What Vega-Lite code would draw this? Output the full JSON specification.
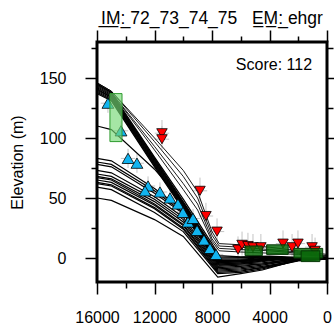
{
  "$schema": "https://vega.github.io/schema/vega-lite/v6.json",
  "width": 230,
  "height": 240,
  "autosize": "none",
  "padding": {"left": 97, "top": 42, "right": 7, "bottom": 44},
  "background": "white",
  "config": {
    "font": "Liberation Sans",
    "view": {"stroke": "black", "strokeWidth": 3},
    "axis": {"grid": false, "domain": false, "tickColor": "black", "tickWidth": 1.5, "labelColor": "black", "labelFontSize": 16, "titleFontSize": 16, "titleFontWeight": "normal", "titleColor": "black", "labelFlush": false, "labelOverlap": false, "labelBound": false}
  },
  "title": {
    "text": "I\u0332M\u0332:\u0332 72_73_74_75\u00a0\u00a0\u00a0E\u0332M\u0332:\u0332 ehgr",
    "fontSize": 17.5,
    "fontWeight": "normal",
    "color": "black",
    "anchor": "middle",
    "frame": "group",
    "offset": 2
  },
  "datasets": {
    "profiles": [
      {"id":"S1","g":"core","x":16000,"y":145},{"id":"S1","g":"core","x":15000,"y":138},{"id":"S1","g":"core","x":12000,"y":84},{"id":"S1","g":"core","x":10000,"y":49},{"id":"S1","g":"core","x":8000,"y":12},{"id":"S1","g":"core","x":7500,"y":2},{"id":"S1","g":"core","x":6000,"y":1},{"id":"S1","g":"core","x":4000,"y":1.5},{"id":"S1","g":"core","x":2000,"y":0.5},{"id":"S1","g":"core","x":0,"y":0},
      {"id":"S2","g":"core","x":16000,"y":144},{"id":"S2","g":"core","x":15000,"y":137},{"id":"S2","g":"core","x":12000,"y":83},{"id":"S2","g":"core","x":10000,"y":47},{"id":"S2","g":"core","x":8000,"y":10},{"id":"S2","g":"core","x":7500,"y":1},{"id":"S2","g":"core","x":6000,"y":0.5},{"id":"S2","g":"core","x":4000,"y":1},{"id":"S2","g":"core","x":2000,"y":0},{"id":"S2","g":"core","x":0,"y":0},
      {"id":"S3","g":"core","x":16000,"y":143},{"id":"S3","g":"core","x":15000,"y":136},{"id":"S3","g":"core","x":12000,"y":82},{"id":"S3","g":"core","x":10000,"y":46},{"id":"S3","g":"core","x":8000,"y":9},{"id":"S3","g":"core","x":7500,"y":0},{"id":"S3","g":"core","x":6000,"y":0},{"id":"S3","g":"core","x":4000,"y":1},{"id":"S3","g":"core","x":2000,"y":0},{"id":"S3","g":"core","x":0,"y":-0.5},
      {"id":"S4","g":"core","x":16000,"y":142},{"id":"S4","g":"core","x":15000,"y":135},{"id":"S4","g":"core","x":12000,"y":81},{"id":"S4","g":"core","x":10000,"y":45},{"id":"S4","g":"core","x":8000,"y":8},{"id":"S4","g":"core","x":7500,"y":-1},{"id":"S4","g":"core","x":6000,"y":-1},{"id":"S4","g":"core","x":4000,"y":0.5},{"id":"S4","g":"core","x":2000,"y":0},{"id":"S4","g":"core","x":0,"y":-0.5},
      {"id":"S5","g":"core","x":16000,"y":141},{"id":"S5","g":"core","x":15000,"y":134},{"id":"S5","g":"core","x":12000,"y":80},{"id":"S5","g":"core","x":10000,"y":44},{"id":"S5","g":"core","x":8000,"y":7},{"id":"S5","g":"core","x":7500,"y":-2},{"id":"S5","g":"core","x":6000,"y":-2},{"id":"S5","g":"core","x":4000,"y":0},{"id":"S5","g":"core","x":2000,"y":-0.5},{"id":"S5","g":"core","x":0,"y":-0.5},
      {"id":"S6","g":"core","x":16000,"y":140},{"id":"S6","g":"core","x":15000,"y":134},{"id":"S6","g":"core","x":12000,"y":79},{"id":"S6","g":"core","x":10000,"y":43},{"id":"S6","g":"core","x":8000,"y":6},{"id":"S6","g":"core","x":7500,"y":-3},{"id":"S6","g":"core","x":6000,"y":-2.5},{"id":"S6","g":"core","x":4000,"y":0},{"id":"S6","g":"core","x":2000,"y":-0.5},{"id":"S6","g":"core","x":0,"y":-1},
      {"id":"S7","g":"core","x":16000,"y":139},{"id":"S7","g":"core","x":15000,"y":133},{"id":"S7","g":"core","x":12000,"y":78},{"id":"S7","g":"core","x":10000,"y":42},{"id":"S7","g":"core","x":8000,"y":5},{"id":"S7","g":"core","x":7500,"y":-4},{"id":"S7","g":"core","x":6000,"y":-3},{"id":"S7","g":"core","x":4000,"y":-0.5},{"id":"S7","g":"core","x":2000,"y":-0.5},{"id":"S7","g":"core","x":0,"y":-1},
      {"id":"S8","g":"core","x":16000,"y":138},{"id":"S8","g":"core","x":15000,"y":132},{"id":"S8","g":"core","x":12000,"y":77},{"id":"S8","g":"core","x":10000,"y":41},{"id":"S8","g":"core","x":8000,"y":4},{"id":"S8","g":"core","x":7500,"y":-5},{"id":"S8","g":"core","x":6000,"y":-4},{"id":"S8","g":"core","x":4000,"y":-1},{"id":"S8","g":"core","x":2000,"y":-1},{"id":"S8","g":"core","x":0,"y":-1},
      {"id":"S9","g":"core","x":16000,"y":137},{"id":"S9","g":"core","x":15000,"y":131},{"id":"S9","g":"core","x":12000,"y":76},{"id":"S9","g":"core","x":10000,"y":40},{"id":"S9","g":"core","x":8000,"y":3},{"id":"S9","g":"core","x":7500,"y":-6},{"id":"S9","g":"core","x":6000,"y":-5},{"id":"S9","g":"core","x":4000,"y":-1.5},{"id":"S9","g":"core","x":2000,"y":-1},{"id":"S9","g":"core","x":0,"y":-1},
      {"id":"P","g":"core","x":16000,"y":110},{"id":"P","g":"core","x":15000,"y":107},{"id":"P","g":"core","x":12000,"y":74},{"id":"P","g":"core","x":10000,"y":46},{"id":"P","g":"core","x":8000,"y":8},{"id":"P","g":"core","x":7500,"y":-3},{"id":"P","g":"core","x":6000,"y":-2},{"id":"P","g":"core","x":4000,"y":0},{"id":"P","g":"core","x":2000,"y":0},{"id":"P","g":"core","x":0,"y":0},
      {"id":"O1","g":"outer","x":16000,"y":146},{"id":"O1","g":"outer","x":15000,"y":139},{"id":"O1","g":"outer","x":12000,"y":100},{"id":"O1","g":"outer","x":10000,"y":73},{"id":"O1","g":"outer","x":9000,"y":55},{"id":"O1","g":"outer","x":8000,"y":22},{"id":"O1","g":"outer","x":7500,"y":12},{"id":"O1","g":"outer","x":6000,"y":11},{"id":"O1","g":"outer","x":4000,"y":9},{"id":"O1","g":"outer","x":2000,"y":6},{"id":"O1","g":"outer","x":0,"y":3},
      {"id":"O2","g":"outer","x":16000,"y":146},{"id":"O2","g":"outer","x":15000,"y":139},{"id":"O2","g":"outer","x":12000,"y":97},{"id":"O2","g":"outer","x":10000,"y":68},{"id":"O2","g":"outer","x":9000,"y":50},{"id":"O2","g":"outer","x":8000,"y":19},{"id":"O2","g":"outer","x":7500,"y":10},{"id":"O2","g":"outer","x":6000,"y":9},{"id":"O2","g":"outer","x":4000,"y":7},{"id":"O2","g":"outer","x":2000,"y":5},{"id":"O2","g":"outer","x":0,"y":2},
      {"id":"O3","g":"outer","x":16000,"y":145},{"id":"O3","g":"outer","x":15000,"y":138},{"id":"O3","g":"outer","x":12000,"y":93},{"id":"O3","g":"outer","x":10000,"y":62},{"id":"O3","g":"outer","x":9000,"y":45},{"id":"O3","g":"outer","x":8000,"y":16},{"id":"O3","g":"outer","x":7500,"y":8},{"id":"O3","g":"outer","x":6000,"y":7},{"id":"O3","g":"outer","x":4000,"y":6},{"id":"O3","g":"outer","x":2000,"y":4},{"id":"O3","g":"outer","x":0,"y":1.5},
      {"id":"O4","g":"outer","x":16000,"y":145},{"id":"O4","g":"outer","x":15000,"y":138},{"id":"O4","g":"outer","x":12000,"y":90},{"id":"O4","g":"outer","x":10000,"y":57},{"id":"O4","g":"outer","x":9000,"y":40},{"id":"O4","g":"outer","x":8000,"y":14},{"id":"O4","g":"outer","x":7500,"y":6},{"id":"O4","g":"outer","x":6000,"y":5},{"id":"O4","g":"outer","x":4000,"y":4},{"id":"O4","g":"outer","x":2000,"y":3},{"id":"O4","g":"outer","x":0,"y":1},
      {"id":"L1","g":"core","x":16000,"y":83},{"id":"L1","g":"core","x":15000,"y":81},{"id":"L1","g":"core","x":12000,"y":58},{"id":"L1","g":"core","x":10000,"y":40},{"id":"L1","g":"core","x":7600,"y":-3},{"id":"L1","g":"core","x":6000,"y":-2},{"id":"L1","g":"core","x":4500,"y":-1},{"id":"L1","g":"core","x":3000,"y":0},{"id":"L1","g":"core","x":2000,"y":0},{"id":"L1","g":"core","x":0,"y":0},
      {"id":"L2","g":"core","x":16000,"y":80},{"id":"L2","g":"core","x":15000,"y":78},{"id":"L2","g":"core","x":12000,"y":56},{"id":"L2","g":"core","x":10000,"y":38},{"id":"L2","g":"core","x":7600,"y":-4},{"id":"L2","g":"core","x":6000,"y":-3},{"id":"L2","g":"core","x":4500,"y":-2},{"id":"L2","g":"core","x":3000,"y":-1},{"id":"L2","g":"core","x":2000,"y":0},{"id":"L2","g":"core","x":0,"y":0},
      {"id":"L3","g":"core","x":16000,"y":78},{"id":"L3","g":"core","x":15000,"y":76},{"id":"L3","g":"core","x":12000,"y":54},{"id":"L3","g":"core","x":10000,"y":37},{"id":"L3","g":"core","x":7600,"y":-5},{"id":"L3","g":"core","x":6000,"y":-4},{"id":"L3","g":"core","x":4500,"y":-3},{"id":"L3","g":"core","x":3000,"y":-1},{"id":"L3","g":"core","x":2000,"y":-0.5},{"id":"L3","g":"core","x":0,"y":0},
      {"id":"L4","g":"core","x":16000,"y":73},{"id":"L4","g":"core","x":15000,"y":71},{"id":"L4","g":"core","x":12000,"y":51},{"id":"L4","g":"core","x":10000,"y":34},{"id":"L4","g":"core","x":7600,"y":-6},{"id":"L4","g":"core","x":6000,"y":-5},{"id":"L4","g":"core","x":4500,"y":-4},{"id":"L4","g":"core","x":3000,"y":-2},{"id":"L4","g":"core","x":2000,"y":-1},{"id":"L4","g":"core","x":0,"y":0},
      {"id":"L5","g":"core","x":16000,"y":70},{"id":"L5","g":"core","x":15000,"y":68},{"id":"L5","g":"core","x":12000,"y":49},{"id":"L5","g":"core","x":10000,"y":32},{"id":"L5","g":"core","x":7600,"y":-7},{"id":"L5","g":"core","x":6000,"y":-6},{"id":"L5","g":"core","x":4500,"y":-5},{"id":"L5","g":"core","x":3000,"y":-2},{"id":"L5","g":"core","x":2000,"y":-1},{"id":"L5","g":"core","x":0,"y":-0.5},
      {"id":"L6","g":"core","x":16000,"y":68},{"id":"L6","g":"core","x":15000,"y":66},{"id":"L6","g":"core","x":12000,"y":47},{"id":"L6","g":"core","x":10000,"y":30},{"id":"L6","g":"core","x":7600,"y":-8},{"id":"L6","g":"core","x":6000,"y":-7},{"id":"L6","g":"core","x":4500,"y":-5},{"id":"L6","g":"core","x":3000,"y":-3},{"id":"L6","g":"core","x":2000,"y":-1},{"id":"L6","g":"core","x":0,"y":-0.5},
      {"id":"L7","g":"core","x":16000,"y":67},{"id":"L7","g":"core","x":15000,"y":65},{"id":"L7","g":"core","x":12000,"y":45},{"id":"L7","g":"core","x":10000,"y":28},{"id":"L7","g":"core","x":7600,"y":-9},{"id":"L7","g":"core","x":6000,"y":-8},{"id":"L7","g":"core","x":4500,"y":-6},{"id":"L7","g":"core","x":3000,"y":-3},{"id":"L7","g":"core","x":2000,"y":-1.5},{"id":"L7","g":"core","x":0,"y":-0.5},
      {"id":"L8","g":"core","x":16000,"y":65},{"id":"L8","g":"core","x":15000,"y":63},{"id":"L8","g":"core","x":12000,"y":44},{"id":"L8","g":"core","x":10000,"y":27},{"id":"L8","g":"core","x":7600,"y":-10},{"id":"L8","g":"core","x":6000,"y":-9},{"id":"L8","g":"core","x":4500,"y":-7},{"id":"L8","g":"core","x":3000,"y":-4},{"id":"L8","g":"core","x":2000,"y":-2},{"id":"L8","g":"core","x":0,"y":-1},
      {"id":"L9","g":"core","x":16000,"y":63},{"id":"L9","g":"core","x":15000,"y":61},{"id":"L9","g":"core","x":12000,"y":42},{"id":"L9","g":"core","x":10000,"y":25},{"id":"L9","g":"core","x":7600,"y":-11},{"id":"L9","g":"core","x":6000,"y":-10},{"id":"L9","g":"core","x":4500,"y":-8},{"id":"L9","g":"core","x":3000,"y":-4},{"id":"L9","g":"core","x":2000,"y":-2},{"id":"L9","g":"core","x":0,"y":-1},
      {"id":"L10","g":"core","x":16000,"y":62},{"id":"L10","g":"core","x":15000,"y":60},{"id":"L10","g":"core","x":12000,"y":41},{"id":"L10","g":"core","x":10000,"y":24},{"id":"L10","g":"core","x":7600,"y":-12},{"id":"L10","g":"core","x":6000,"y":-11},{"id":"L10","g":"core","x":4500,"y":-8},{"id":"L10","g":"core","x":3000,"y":-5},{"id":"L10","g":"core","x":2000,"y":-2},{"id":"L10","g":"core","x":0,"y":-1},
      {"id":"L11","g":"core","x":16000,"y":59},{"id":"L11","g":"core","x":15000,"y":57},{"id":"L11","g":"core","x":12000,"y":38},{"id":"L11","g":"core","x":10000,"y":22},{"id":"L11","g":"core","x":7600,"y":-13},{"id":"L11","g":"core","x":6000,"y":-12},{"id":"L11","g":"core","x":4500,"y":-9},{"id":"L11","g":"core","x":3000,"y":-5},{"id":"L11","g":"core","x":2000,"y":-2.5},{"id":"L11","g":"core","x":0,"y":-1},
      {"id":"L12","g":"core","x":16000,"y":50},{"id":"L12","g":"core","x":15000,"y":48},{"id":"L12","g":"core","x":12000,"y":32},{"id":"L12","g":"core","x":10000,"y":18},{"id":"L12","g":"core","x":7600,"y":-16},{"id":"L12","g":"core","x":6000,"y":-13},{"id":"L12","g":"core","x":4500,"y":-10},{"id":"L12","g":"core","x":3000,"y":-5},{"id":"L12","g":"core","x":2000,"y":-1},{"id":"L12","g":"core","x":0,"y":0}
    ],
    "obs": [
      {"set":"blue","x":15240,"y":129,"xlo":14740,"xhi":15740,"ylo":121,"yhi":137},
      {"set":"blue","x":14330,"y":106,"xlo":13830,"xhi":14830,"ylo":98,"yhi":114},
      {"set":"blue","x":13840,"y":83,"xlo":13340,"xhi":14340,"ylo":75,"yhi":91},
      {"set":"blue","x":13220,"y":79,"xlo":12720,"xhi":13720,"ylo":71,"yhi":87},
      {"set":"blue","x":12450,"y":60,"xlo":11950,"xhi":12950,"ylo":52,"yhi":68},
      {"set":"blue","x":12660,"y":56,"xlo":12160,"xhi":13160,"ylo":48,"yhi":64},
      {"set":"blue","x":11620,"y":55,"xlo":11120,"xhi":12120,"ylo":47,"yhi":63},
      {"set":"blue","x":10920,"y":50,"xlo":10420,"xhi":11420,"ylo":42,"yhi":58},
      {"set":"blue","x":10370,"y":45,"xlo":9870,"xhi":10870,"ylo":37,"yhi":53},
      {"set":"blue","x":10020,"y":38,"xlo":9520,"xhi":10520,"ylo":30,"yhi":46},
      {"set":"blue","x":9670,"y":30,"xlo":9170,"xhi":10170,"ylo":22,"yhi":38},
      {"set":"blue","x":9320,"y":33,"xlo":8820,"xhi":9820,"ylo":25,"yhi":41},
      {"set":"blue","x":9040,"y":23,"xlo":8540,"xhi":9540,"ylo":15,"yhi":31},
      {"set":"blue","x":8560,"y":15,"xlo":8060,"xhi":9060,"ylo":7,"yhi":23},
      {"set":"blue","x":8140,"y":8,"xlo":7640,"xhi":8640,"ylo":0,"yhi":16},
      {"set":"blue","x":7720,"y":3,"xlo":7220,"xhi":8220,"ylo":-5,"yhi":11},
      {"set":"red","x":11480,"y":104,"xlo":10980,"xhi":11980,"ylo":95,"yhi":115},
      {"set":"red","x":11480,"y":99,"xlo":10980,"xhi":11980,"ylo":90,"yhi":110},
      {"set":"red","x":8835,"y":56,"xlo":8335,"xhi":9335,"ylo":47,"yhi":67},
      {"set":"red","x":8420,"y":35,"xlo":7920,"xhi":8920,"ylo":26,"yhi":46},
      {"set":"red","x":7650,"y":22,"xlo":7150,"xhi":8150,"ylo":13,"yhi":33},
      {"set":"red","x":6190,"y":7,"xlo":5690,"xhi":6690,"ylo":-2,"yhi":18},
      {"set":"red","x":5910,"y":11,"xlo":5410,"xhi":6410,"ylo":2,"yhi":22},
      {"set":"red","x":5500,"y":10,"xlo":5000,"xhi":6000,"ylo":1,"yhi":21},
      {"set":"red","x":5150,"y":9,"xlo":4650,"xhi":5650,"ylo":0,"yhi":20},
      {"set":"red","x":4600,"y":9,"xlo":4100,"xhi":5100,"ylo":0,"yhi":20},
      {"set":"red","x":3060,"y":12,"xlo":2560,"xhi":3560,"ylo":3,"yhi":23},
      {"set":"red","x":2430,"y":9,"xlo":1930,"xhi":2930,"ylo":0,"yhi":20},
      {"set":"red","x":2020,"y":12,"xlo":1520,"xhi":2520,"ylo":3,"yhi":23},
      {"set":"red","x":1040,"y":9,"xlo":540,"xhi":1540,"ylo":0,"yhi":20},
      {"set":"red","x":830,"y":6,"xlo":330,"xhi":1330,"ylo":-3,"yhi":17}
    ],
    "boxes": [
      {"kind":"light","x1":14260,"x2":15100,"y1":97,"y2":137},
      {"kind":"dark","x1":4500,"x2":5700,"y1":2,"y2":10},
      {"kind":"dark","x1":2700,"x2":4200,"y1":3,"y2":11},
      {"kind":"dark","x1":300,"x2":2300,"y1":0,"y2":8},
      {"kind":"dark","x1":500,"x2":1800,"y1":-3,"y2":6}
    ],
    "score": [{"x":1040,"y":157,"label":"Score: 112"}]
  },
  "resolve": {"axis": {"x": "independent", "y": "independent"}},
  "layer": [
    {
      "data": {"name": "obs"},
      "mark": {"type": "rule", "color": "#c4c4c4", "strokeWidth": 1},
      "encoding": {
        "x": {"field": "x", "type": "quantitative", "axis": null},
        "y": {"field": "ylo", "type": "quantitative", "axis": null},
        "y2": {"field": "yhi"}
      }
    },
    {
      "data": {"name": "obs"},
      "mark": {"type": "rule", "color": "#c4c4c4", "strokeWidth": 1},
      "encoding": {
        "x": {"field": "xlo", "type": "quantitative", "axis": null},
        "x2": {"field": "xhi"},
        "y": {"field": "y", "type": "quantitative", "axis": null}
      }
    },
    {
      "data": {"name": "profiles"},
      "mark": {"type": "line", "color": "black", "clip": true},
      "encoding": {
        "x": {"field": "x", "type": "quantitative",
              "scale": {"domain": [0, 16000], "reverse": true, "nice": false, "zero": false},
              "axis": {"orient": "bottom", "values": [0,2000,4000,6000,8000,10000,12000,14000,16000], "format": "d",
                       "labelExpr": "datum.value % 4000 === 0 ? datum.label : ''",
                       "tickSize": {"condition": {"test": "datum.value % 4000 === 0", "value": 12}, "value": 6},
                       "labelPadding": 15, "title": null}},
        "y": {"field": "y", "type": "quantitative",
              "scale": {"domain": [-20, 180], "nice": false, "zero": false},
              "axis": {"orient": "left", "values": [0,25,50,75,100,125,150,175],
                       "labelExpr": "datum.value % 50 === 0 ? datum.label : ''",
                       "tickSize": {"condition": {"test": "datum.value % 50 === 0", "value": 12}, "value": 6},
                       "labelPadding": 19, "title": "Elevation (m)", "titlePadding": 14}},
        "detail": {"field": "id"},
        "strokeWidth": {"field": "g", "type": "nominal", "scale": {"domain": ["core", "outer"], "range": [1.2, 0.9]}, "legend": null}
      }
    },
    {
      "data": {"name": "obs"},
      "transform": [{"filter": "datum.set === 'blue'"}],
      "mark": {"type": "point", "shape": "triangle-up", "filled": true, "fill": "#12b4f0", "stroke": "black", "strokeWidth": 0.8, "opacity": 1, "size": 140},
      "encoding": {
        "x": {"field": "x", "type": "quantitative", "axis": null},
        "y": {"field": "y", "type": "quantitative", "axis": null}
      }
    },
    {
      "data": {"name": "obs"},
      "transform": [{"filter": "datum.set === 'red'"}],
      "mark": {"type": "point", "shape": "triangle-down", "filled": true, "fill": "#ff0000", "stroke": "black", "strokeWidth": 0.8, "opacity": 1, "size": 110},
      "encoding": {
        "x": {"field": "x", "type": "quantitative", "axis": null},
        "y": {"field": "y", "type": "quantitative", "axis": null}
      }
    },
    {
      "data": {"name": "boxes"},
      "mark": {"type": "rect", "strokeWidth": 1},
      "encoding": {
        "x": {"field": "x1", "type": "quantitative", "axis": null},
        "x2": {"field": "x2"},
        "y": {"field": "y1", "type": "quantitative", "axis": null},
        "y2": {"field": "y2"},
        "fill": {"field": "kind", "type": "nominal", "scale": {"domain": ["light", "dark"], "range": ["#74d874", "#0a6a0a"]}, "legend": null},
        "stroke": {"field": "kind", "type": "nominal", "scale": {"domain": ["light", "dark"], "range": ["#2e9a2e", "#063806"]}, "legend": null},
        "fillOpacity": {"field": "kind", "type": "nominal", "scale": {"domain": ["light", "dark"], "range": [0.65, 0.85]}, "legend": null}
      }
    },
    {
      "data": {"name": "score"},
      "mark": {"type": "text", "align": "right", "baseline": "alphabetic", "fontSize": 16, "color": "black"},
      "encoding": {
        "x": {"field": "x", "type": "quantitative",
              "axis": {"orient": "top", "values": [0,2000,4000,6000,8000,10000,12000,14000,16000], "labels": false,
                       "tickSize": {"condition": {"test": "datum.value % 4000 === 0", "value": 12}, "value": 6}, "title": null}},
        "y": {"field": "y", "type": "quantitative",
              "axis": {"orient": "right", "values": [0,25,50,75,100,125,150,175], "labels": false,
                       "tickSize": {"condition": {"test": "datum.value % 50 === 0", "value": 12}, "value": 6}, "title": null}},
        "text": {"field": "label"}
      }
    }
  ]
}
